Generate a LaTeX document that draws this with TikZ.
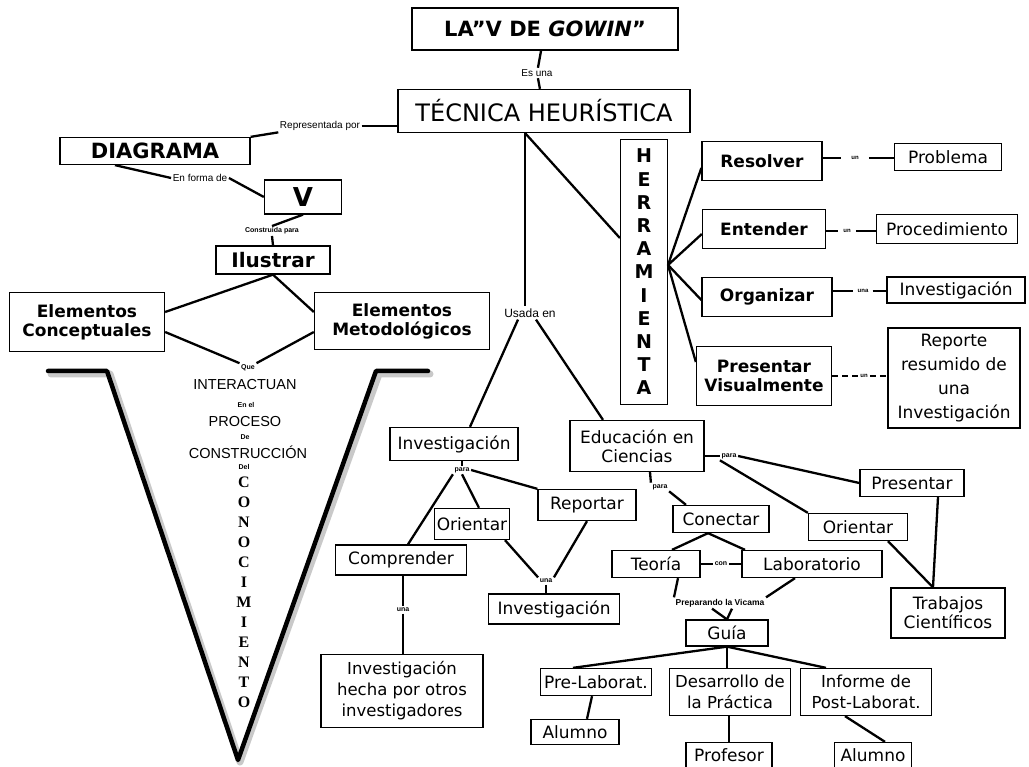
\documentclass[tikz,border=0pt]{standalone}
\usepackage{fontspec}
\setmainfont{DejaVu Sans}
\newfontfamily\arialf{Liberation Sans}
\newfontfamily\timesf{Liberation Serif}
\usetikzlibrary{arrows.meta}
\begin{document}
\begin{tikzpicture}[x=1pt,y=-1pt,
  box/.style={draw, line width=1.3pt, inner sep=1pt, align=center, fill=white,
    font=\fontsize{17}{19}\selectfont},
  bbox/.style={box, font=\fontsize{17}{19}\selectfont\bfseries},
  lbl/.style={inner sep=1.5pt, align=center, font=\arialf\fontsize{10}{11}\selectfont},
  tiny/.style={inner sep=1.5pt, font=\arialf\bfseries\fontsize{7}{8}\selectfont},
  vtxt/.style={inner sep=0pt, align=center, font=\arialf\fontsize{14.5}{16}\selectfont},
  con/.style={line width=2.3pt},
  varm/.style={line width=4.5pt, line cap=round, line join=round}]
\useasboundingbox (0,0) rectangle (1029,767);
\fill[white] (0,0) rectangle (1029,767);

% ---------- V shape ----------
\draw[varm, black!35, opacity=0.6, line width=7pt] (51,374) -- (110,374) -- (240,762) -- (379,374) -- (430,374);
\draw[varm] (48,371) -- (107,371) -- (238,760) -- (376,371) -- (428,371);

% ---------- top ----------
\node[box, minimum width=266, minimum height=42, font=\fontsize{21}{23}\selectfont\bfseries] (gowin) at (545,29) {LA\symbol{"22}V DE \textit{GOWIN}\symbol{"22}};
\node[lbl] (esuna) at (537,73) {Es una};
\node[box, minimum width=292, minimum height=43, font=\fontsize{24}{26}\selectfont] (tec) at (544,111) {TÉCNICA HEURÍSTICA};
\draw[con] (gowin) -- (esuna) -- (tec);

% ---------- left column ----------
\node[lbl] (repr) at (320,126) {Representada por};
\node[box, minimum width=190, minimum height=27, font=\fontsize{21}{23}\selectfont\bfseries] (diag) at (155,151) {DIAGRAMA};
\draw[con] (diag.north east) -- (repr.south west);
\draw[con] (repr.east) -- (tec.west |- repr.east);
\node[lbl] (enforma) at (200,178) {En forma de};
\node[box, minimum width=77, minimum height=34, font=\fontsize{26}{28}\selectfont\bfseries] (v) at (303,197) {V};
\draw[con] (diag.south) ++(-40,0) coordinate (dsw) -- (enforma.west);
\draw[con] (enforma.east) -- (v.west);
\node[tiny] (constr) at (272,231) {Construida para};
\node[box, minimum width=114, minimum height=28, font=\fontsize{20}{22}\selectfont\bfseries] (ilus) at (273,260) {Ilustrar};
\draw[con] (v.south) -- (constr.north);
\draw[con] (constr.south) -- (ilus.north);
\node[bbox, minimum width=155, minimum height=59] (ec) at (87,322) {Elementos\\Conceptuales};
\node[bbox, minimum width=175, minimum height=57] (em) at (402,321) {Elementos\\Metodológicos};
\draw[con] (ilus.south) -- (ec.east |- 0,312);
\draw[con] (ilus.south) -- (em.west |- 0,312);
\node[tiny] (que) at (248,368) {Que};
\draw[con] (ec.east |- 0,332) -- (que.north west);
\draw[con] (em.west |- 0,332) -- (que.north east);
\node[vtxt] (inter) at (245,385) {INTERACTUAN};
\node[tiny] (enel) at (246,405) {En el};
\node[vtxt] (proc) at (245,422) {PROCESO};
\node[tiny] (de) at (245,437) {De};
\node[vtxt] (constru) at (248,452) {CONSTRUCCIÓN};
\node[tiny] (del) at (244,467) {Del};
\node[inner sep=0pt, align=center, anchor=north, font=\timesf\bfseries\fontsize{16}{20}\selectfont] (conoc) at (244,477)
  {C\\O\\N\\O\\C\\I\\M\\I\\E\\N\\T\\O};

% ---------- Herramienta ----------
\node[box, minimum width=47, minimum height=265, font=\fontsize{19}{23.2}\selectfont\bfseries] (herr) at (644,272)
  {H\\E\\R\\R\\A\\M\\I\\E\\N\\T\\A};
\coordinate (tecb) at (525,133);
\draw[con] (tecb) -- (herr.west |- 0,238);
\node[bbox, minimum width=120, minimum height=39] (resol) at (762,161) {Resolver};
\node[bbox, minimum width=123, minimum height=39] (enten) at (764,229) {Entender};
\node[bbox, minimum width=130, minimum height=39] (organ) at (767,297) {Organizar};
\node[bbox, minimum width=135, minimum height=59] (presv) at (764,376) {Presentar\\Visualmente};
\coordinate (hr) at (668,265);
\draw[con] (hr) -- (resol.west |- 0,168);
\draw[con] (hr) -- (enten.west |- 0,234);
\draw[con] (hr) -- (organ.west |- 0,300);
\draw[con] (hr) -- (presv.west |- 0,362);
\node[box, minimum width=107, minimum height=27] (probl) at (948,157) {Problema};
\node[box, minimum width=141, minimum height=29] (proced) at (947,229) {Procedimiento};
\node[box, minimum width=138, minimum height=26] (invr) at (956,290) {Investigación};
\node[box, minimum width=132, minimum height=100, font=\fontsize{17}{24}\selectfont] (repres) at (954,378) {Reporte\\resumido de\\una\\Investigación};
\node[tiny, font=\arialf\bfseries\fontsize{6}{7}\selectfont, inner sep=10pt] (un1) at (855,158) {un};
\node[tiny, font=\arialf\bfseries\fontsize{6}{7}\selectfont, inner sep=5pt] (un2) at (847,231) {un};
\node[tiny, font=\arialf\bfseries\fontsize{6}{7}\selectfont, inner sep=4pt] (una3) at (863,291) {una};
\node[tiny, font=\arialf\bfseries\fontsize{6}{7}\selectfont, inner sep=2pt] (un4) at (864,376) {un};
\draw[con] (resol.east |- un1) -- (un1.west);
\draw[con] (un1.east) -- (probl.west |- un1);
\draw[con] (enten.east |- un2) -- (un2.west);
\draw[con] (un2.east) -- (proced.west |- un2);
\draw[con] (organ.east |- una3) -- (una3.west);
\draw[con] (una3.east) -- (invr.west |- una3);
\draw[con, dash pattern=on 6pt off 4pt] (presv.east |- un4) -- (un4.west);
\draw[con, dash pattern=on 6pt off 4pt] (un4.east) -- (repres.west |- un4);

% ---------- Usada en ----------
\node[inner sep=2pt, font=\arialf\fontsize{12}{13}\selectfont] (usada) at (530,313) {Usada en};
\draw[con] (tecb) -- (usada.north -| tecb);
\node[box, minimum width=128, minimum height=33] (invm) at (454,444) {Investigación};
\node[box, minimum width=134, minimum height=51] (educ) at (637,446) {Educación en\\Ciencias};
\draw[con] (usada.south) ++(-12,0) -- (invm.north -| 470,0);
\draw[con] (usada.south) ++(6,0) -- (educ.north -| 603,0);

% ---------- Investigación branch ----------
\node[tiny] (para1) at (462,470) {para};
\node[box, minimum width=75, minimum height=31] (orim) at (472,524) {Orientar};
\node[box, minimum width=98, minimum height=31] (repor) at (587,505) {Reportar};
\node[box, minimum width=131, minimum height=30] (compr) at (401,560) {Comprender};
\node[box, minimum width=131, minimum height=30] (invl) at (554,609) {Investigación};
\node[tiny] (una1) at (546,581) {una};
\node[tiny] (una2) at (403,610) {una};
\node[box, minimum width=162, minimum height=73, font=\fontsize{16.5}{21}\selectfont] (invh) at (402,691) {Investigación\\hecha por otros\\investigadores};
\draw[con] (invm.south -| para1) -- (para1.north);
\draw[con] (para1.south west) -- (compr.north -| 408,0);
\draw[con] (para1.south) -- (orim.north -| 479,0);
\draw[con] (para1.east) -- (repor.north west);
\draw[con] (orim.south -| 505,0) -- (una1.north west);
\draw[con] (repor.south) -- (una1.north east);
\draw[con] (una1.south) -- (invl.north -| una1);
\draw[con] (compr.south -| una2) -- (una2.north);
\draw[con] (una2.south) -- (invh.north -| una2);

% ---------- Educación branch ----------
\node[tiny] (para2) at (729,456) {para};
\node[tiny] (para3) at (660,487) {para};
\node[box, minimum width=104, minimum height=27] (pres) at (912,483) {Presentar};
\node[box, minimum width=99, minimum height=27] (orir) at (858,527) {Orientar};
\node[box, minimum width=96, minimum height=27] (conec) at (721,519) {Conectar};
\node[box, minimum width=88, minimum height=27] (teor) at (656,564) {Teoría};
\node[box, minimum width=140, minimum height=27] (labo) at (812,564) {Laboratorio};
\node[tiny] (conl) at (721,564) {con};
\node[tiny, font=\arialf\bfseries\fontsize{8.5}{9}\selectfont] (prep) at (720,603) {Preparando la Vicama};
\node[box, minimum width=82, minimum height=26] (guia) at (727,633) {Guía};
\node[box, minimum width=114, minimum height=50] (trab) at (948,613) {Trabajos\\Científicos};
\draw[con] (educ.east |- para2) -- (para2.west);
\draw[con] (para2.east) -- (pres.west);
\draw[con] (para2.south west) -- (orir.north west);
\draw[con] (educ.south -| 650,0) -- (para3.north west);
\draw[con] (para3.south east) -- (conec.north -| 686,0);
\draw[con] (conec.south -| 708,0) -- (teor.north -| 672,0);
\draw[con] (conec.south -| 708,0) -- (labo.north -| 745,0);
\draw[con] (teor.east) -- (conl.west);
\draw[con] (conl.east) -- (labo.west);
\draw[con] (teor.south -| 678,0) -- (prep.north west);
\draw[con] (labo.south -| 795,0) -- (prep.north east);
\draw[con] (prep.south) ++(-8,0) -- (guia.north);
\draw[con] (prep.south) ++(12,0) -- (guia.north);
\draw[con] (pres.south -| 938,0) -- (trab.north -| 933,0);
\draw[con] (orir.south -| 888,0) -- (trab.north -| 933,0);

% ---------- Guía children ----------
\node[box, minimum width=111, minimum height=27] (prel) at (596,682) {Pre-Laborat.};
\node[box, minimum width=121, minimum height=47, font=\fontsize{16.5}{21}\selectfont] (desa) at (730,692) {Desarrollo de\\la Práctica};
\node[box, minimum width=131, minimum height=47, font=\fontsize{16.5}{21}\selectfont] (info) at (866,692) {Informe de\\Post-Laborat.};
\node[box, minimum width=88, minimum height=25] (alu1) at (575,732) {Alumno};
\node[box, minimum width=86, minimum height=25] (prof) at (729,755) {Profesor};
\node[box, minimum width=77, minimum height=25] (alu2) at (873,755) {Alumno};
\draw[con] (guia.south) -- (prel.north -| 573,0);
\draw[con] (guia.south) -- (desa.north -| guia);
\draw[con] (guia.south) -- (info.north -| 826,0);
\draw[con] (prel.south -| 592,0) -- (alu1.north -| 587,0);
\draw[con] (desa.south -| prof) -- (prof.north);
\draw[con] (info.south -| 845,0) -- (alu2.north -| 885,0);
\end{tikzpicture}
\end{document}
